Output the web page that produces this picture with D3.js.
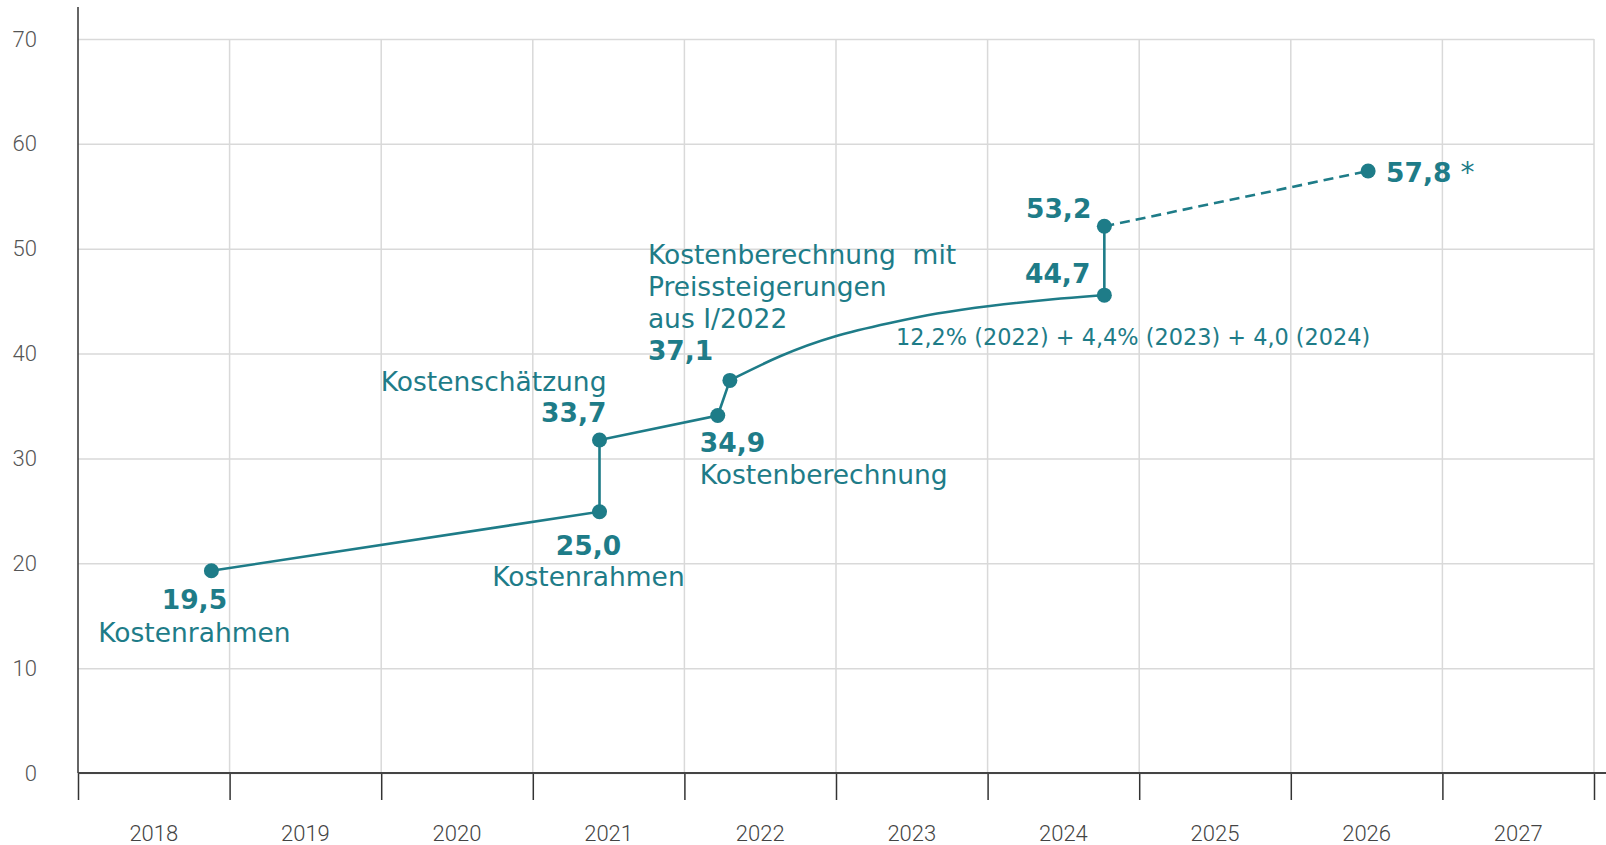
<!DOCTYPE html>
<html>
<head>
<meta charset="utf-8">
<script src="https://cdnjs.cloudflare.com/ajax/libs/d3/7.8.5/d3.min.js"></script>
<style>
  body { margin: 0; background: #fff; }
  svg { display: block; }
</style>
</head>
<body>
<div id="chart"></div>
<script>
// years shown on the x axis (each one a band)
var years = [2018, 2019, 2020, 2021, 2022, 2023, 2024, 2025, 2026, 2027];
var yTicks = [0, 10, 20, 30, 40, 50, 60, 70];

// milestone points (position in years, value as plotted) and their printed labels
var pointYears  = [2018.88, 2021.44, 2021.44, 2022.22, 2022.30, 2024.77, 2024.77, 2026.51];
var pointValues = [19.29, 24.92, 31.76, 34.09, 37.44, 45.57, 52.14, 57.41];
var valueLabels = ["19,5", "25,0", "33,7", "34,9", "37,1", "44,7", "53,2", "57,8"];
var stageLabels = ["Kostenrahmen", "Kostenrahmen", "Kostenschätzung", "Kostenberechnung",
                   "Kostenberechnung  mit|Preissteigerungen|aus I/2022", "", "", ""];

// curved stretch between 37,1 and 44,7
var curveYears  = [2022.30, 2022.63, 2022.99, 2023.36, 2023.66, 2024.00, 2024.43, 2024.77];
var curveValues = [37.44, 39.85, 41.75, 42.93, 43.85, 44.55, 45.20, 45.57];

var noteText = "12,2% (2022) + 4,4% (2023) + 4,0 (2024)";

var W = 1606, H = 845
    , mLeft = 78, mRight = 1594, mTop = 39, mBottom = 773
    , teal = '#1e7c88'
    , tickFont = 'Roboto, "DejaVu Sans", sans-serif'
    , labelFont = '"DejaVu Sans", Verdana, sans-serif';

var x = d3.scaleLinear().domain([2018, 2028]).range([mLeft, mRight]);
var y = d3.scaleLinear().domain([0, 70]).range([mBottom, mTop]);

var svg = d3.select('#chart').append('svg')
    .attr('width', W)
    .attr('height', H);

// horizontal grid
svg.append('g')
    .attr('transform', 'translate(' + mLeft + ',0)')
    .call(d3.axisLeft(y).tickValues(yTicks).tickSize(-(mRight - mLeft)).tickFormat(''))
    .call(function(g) {
        g.select('.domain').remove();
        g.selectAll('line').attr('stroke', '#d9d9d9').attr('stroke-width', 1.5);
    });

// vertical grid at year boundaries
svg.append('g').selectAll('line')
    .data(years.map(function(d) { return d + 1; }))
    .join('line')
    .attr('x1', function(d) { return x(d); })
    .attr('x2', function(d) { return x(d); })
    .attr('y1', y(70))
    .attr('y2', y(0))
    .attr('stroke', '#d9d9d9')
    .attr('stroke-width', 1.5);

// y labels
svg.append('g')
    .attr('transform', 'translate(' + mLeft + ',0)')
    .call(d3.axisLeft(y).tickValues(yTicks).tickSize(0).tickPadding(41))
    .call(function(g) {
        g.select('.domain').remove();
        g.selectAll('text')
            .attr('fill', '#555')
            .style('font-family', tickFont)
            .style('font-weight', 300)
            .style('font-size', '22px');
    });

// y axis line
svg.append('line')
    .attr('x1', mLeft).attr('x2', mLeft)
    .attr('y1', 7).attr('y2', mBottom)
    .attr('stroke', '#333').attr('stroke-width', 1.5);

// x axis: ticks at boundaries, labels in the middle of each year
svg.append('g')
    .attr('transform', 'translate(0,' + mBottom + ')')
    .call(d3.axisBottom(x).tickValues(years.concat([2028])).tickSize(27).tickFormat(''))
    .call(function(g) {
        g.select('.domain').remove();
        g.selectAll('line').attr('stroke', '#333').attr('stroke-width', 1.5);
    });

svg.append('line')
    .attr('x1', mLeft).attr('x2', W)
    .attr('y1', mBottom).attr('y2', mBottom)
    .attr('stroke', '#444').attr('stroke-width', 2);

svg.append('g').selectAll('text')
    .data(years)
    .join('text')
    .attr('x', function(d) { return x(d + 0.5); })
    .attr('y', 841)
    .attr('text-anchor', 'middle')
    .attr('fill', '#444')
    .style('font-family', tickFont)
    .style('font-weight', 300)
    .style('font-size', '22px')
    .text(function(d) { return d; });

// lines
var pts = pointYears.map(function(d, i) { return [d, pointValues[i]]; });
var lineGen = d3.line()
    .x(function(d) { return x(d[0]); })
    .y(function(d) { return y(d[1]); });
var curveGen = d3.line()
    .x(function(d) { return x(d[0]); })
    .y(function(d) { return y(d[1]); })
    .curve(d3.curveBasis);

var lines = svg.append('g')
    .attr('fill', 'none')
    .attr('stroke', teal)
    .attr('stroke-width', 2.6);

lines.append('path').attr('d', lineGen(pts.slice(0, 5)));
lines.append('path').attr('d', curveGen(curveYears.map(function(d, i) { return [d, curveValues[i]]; })));
lines.append('path').attr('d', lineGen(pts.slice(5, 7)));
lines.append('path').attr('d', lineGen(pts.slice(6, 8))).attr('stroke-dasharray', '10,6');

svg.append('g').selectAll('circle')
    .data(pts)
    .join('circle')
    .attr('cx', function(d) { return x(d[0]); })
    .attr('cy', function(d) { return y(d[1]); })
    .attr('r', 7.5)
    .attr('fill', teal);

// label placement relative to each point: [dx, dy value, anchor, dy stage]
var place = [
    [-17, 38, 'middle', 71],
    [-11, 43, 'middle', 74],
    [7, -18, 'end', -49],
    [-18, 36, 'start', 68],
    [-82, -20, 'start', -116],
    [-14, -12, 'end', 0],
    [-13, -8, 'end', 0],
    [18, 11, 'start', 0]
];

var labels = svg.append('g').attr('fill', teal).style('font-family', labelFont);

pts.forEach(function(p, i) {
    var px = x(p[0]), py = y(p[1]), o = place[i];
    var t = labels.append('text')
        .attr('x', px + o[0])
        .attr('y', py + o[1])
        .attr('text-anchor', o[2])
        .style('font-size', '26.5px')
        .style('font-weight', 'bold')
        .text(valueLabels[i]);
    if (i === 7) {
        t.append('tspan').style('font-weight', 'normal').style('font-size', '28px').text(' *');
    }
    if (stageLabels[i]) {
        var st = labels.append('text')
            .attr('x', px + o[0])
            .attr('y', py + o[3])
            .attr('text-anchor', o[2])
            .style('font-size', '26.5px')
            .style('white-space', 'pre');
        stageLabels[i].split('|').forEach(function(s, k) {
            st.append('tspan')
                .attr('x', px + o[0])
                .attr('dy', k === 0 ? 0 : 32)
                .text(s);
        });
    }
});

labels.append('text')
    .attr('x', x(2023) + 60)
    .attr('y', y(40) - 9)
    .style('font-size', '22.4px')
    .text(noteText);
</script>
</body>
</html>
